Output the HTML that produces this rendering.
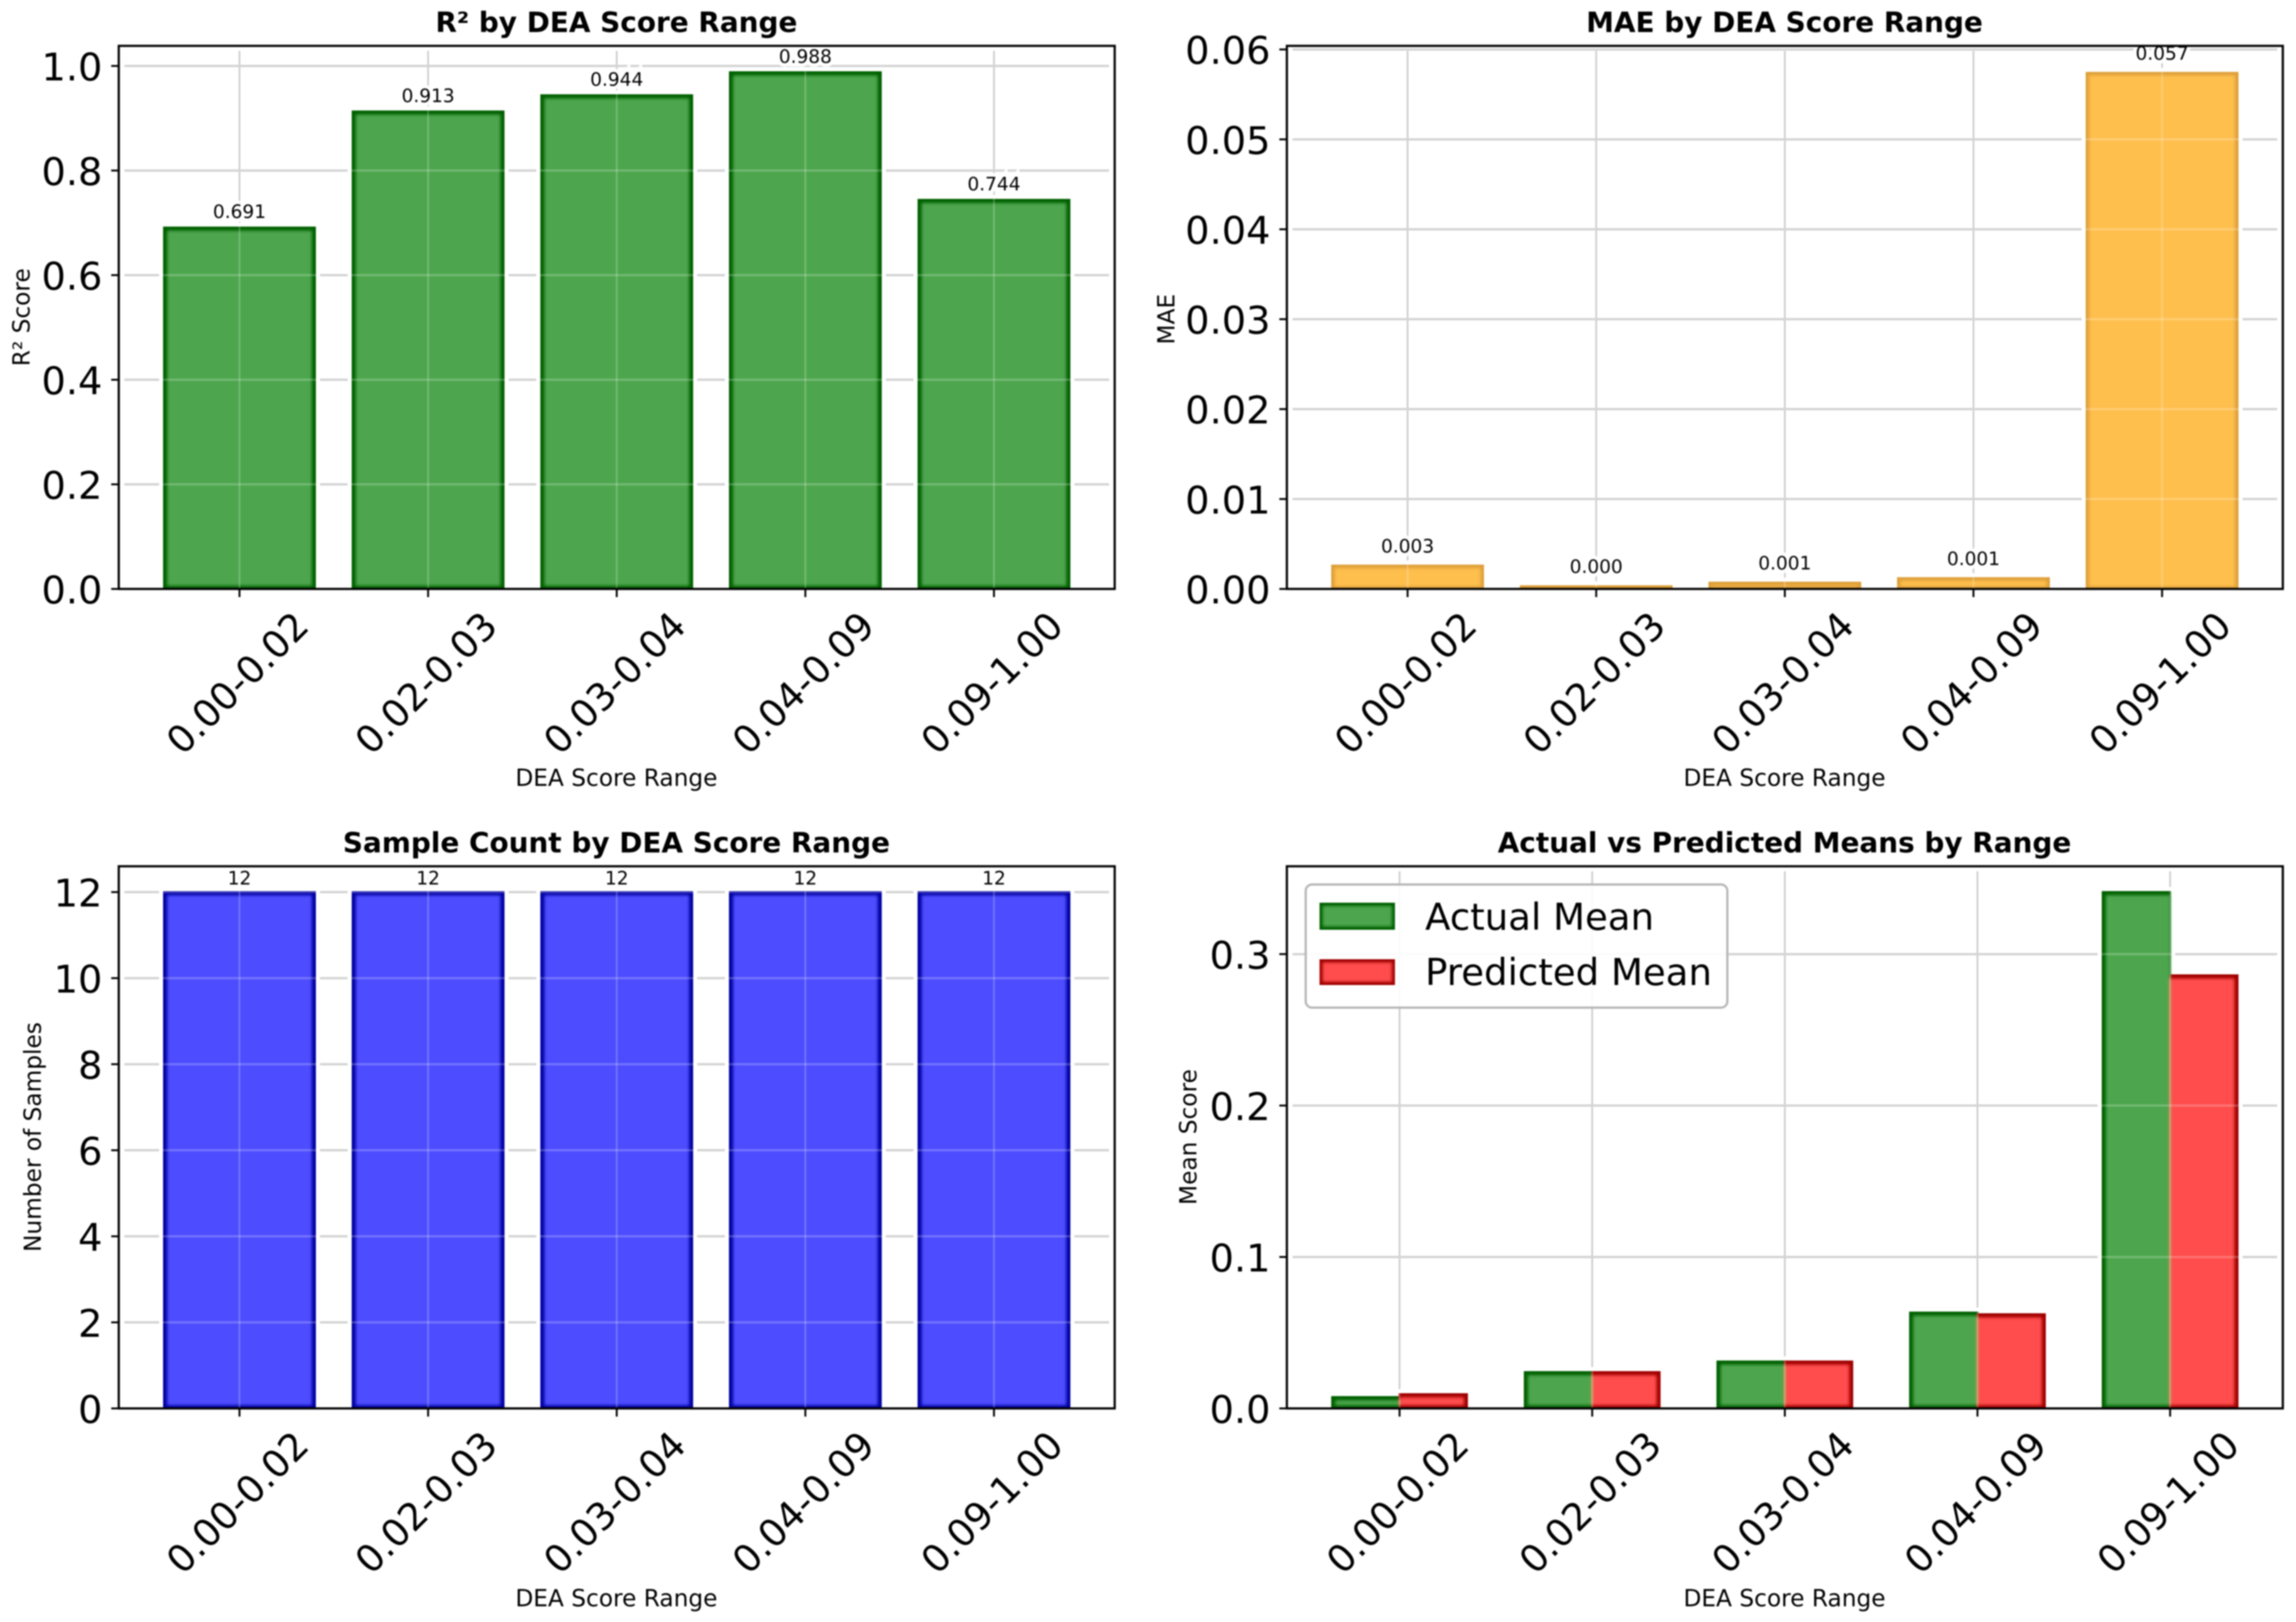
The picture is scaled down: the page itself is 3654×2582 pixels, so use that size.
<!DOCTYPE html>
<html lang="en">
<head>
<meta charset="utf-8">
<title>DEA Score Range Metrics</title>
<style>
  html, body { margin: 0; padding: 0; background: #fff; }
  body { width: 3654px; height: 2582px; overflow: hidden; }
  svg { display: block; filter: blur(1px); font-family: "DejaVu Sans", "Liberation Sans", sans-serif; }
  .title { font-size: 44.4px; font-weight: 700; text-anchor: middle; fill: #000; }
  .axis-label { font-size: 37px; text-anchor: middle; fill: #000; }
  .legend-text { font-size: 59px; fill: #000; }
</style>
</head>
<body>
<svg id="figure" xmlns="http://www.w3.org/2000/svg" width="3654" height="2582" viewBox="0 0 3654 2582">
  <defs>
    <filter id="soft-fill" x="-5%" y="-5%" width="110%" height="110%">
      <feGaussianBlur stdDeviation="2.5"/>
    </filter>
  </defs>
  <rect x="0" y="0" width="3654" height="2582" fill="#ffffff"/>
  <g id="marks"></g>

  <text class="title" x="981" y="51">R² by DEA Score Range</text>
  <text class="title" x="2840" y="51">MAE by DEA Score Range</text>
  <text class="title" x="981" y="1357">Sample Count by DEA Score Range</text>
  <text class="title" x="2840" y="1357">Actual vs Predicted Means by Range</text>

  <text class="axis-label" x="981" y="1251">DEA Score Range</text>
  <text class="axis-label" x="2840" y="1251">DEA Score Range</text>
  <text class="axis-label" x="981" y="2557">DEA Score Range</text>
  <text class="axis-label" x="2840" y="2557">DEA Score Range</text>

  <text class="axis-label" transform="translate(47 505) rotate(-90)">R² Score</text>
  <text class="axis-label" transform="translate(1869 508) rotate(-90)">MAE</text>
  <text class="axis-label" transform="translate(65 1810) rotate(-90)">Number of Samples</text>
  <text class="axis-label" transform="translate(1904 1810) rotate(-90)">Mean Score</text>

  <g>
    <rect x="2078" y="1408" width="671" height="196" rx="10" ry="10" fill="#ffffff" fill-opacity="0.9" stroke="#b5b5b5" stroke-width="3.5"/>
    <rect x="2100" y="1437" width="120" height="43" fill="#006000"/>
    <rect x="2105" y="1442" width="110" height="33" fill="#4da64d" filter="url(#soft-fill)"/>
    <text class="legend-text" x="2268" y="1480">Actual Mean</text>
    <rect x="2100" y="1527" width="120" height="41" fill="#a00000"/>
    <rect x="2105" y="1532" width="110" height="31" fill="#ff4d4d" filter="url(#soft-fill)"/>
    <text class="legend-text" x="2268" y="1568">Predicted Mean</text>
  </g>
</svg>

<script>
// ----- Chart data -----
const categories = ['0.00-0.02', '0.02-0.03', '0.03-0.04', '0.04-0.09', '0.09-1.00'];
const r2Values = [0.691, 0.913, 0.944, 0.988, 0.744];
const maeValues = [0.0026, 0.0003, 0.0007, 0.0012, 0.0574];
const sampleCounts = [12, 12, 12, 12, 12];
const actualMeans = [0.0075, 0.024, 0.031, 0.0633, 0.341];
const predictedMeans = [0.0094, 0.024, 0.031, 0.0622, 0.286];
const r2Ticks = ['0.0', '0.2', '0.4', '0.6', '0.8', '1.0'];
const maeTicks = ['0.00', '0.01', '0.02', '0.03', '0.04', '0.05', '0.06'];
const sampleTicks = ['0', '2', '4', '6', '8', '10', '12'];
const meanTicks = ['0.0', '0.1', '0.2', '0.3'];

const SVG_NS = 'http://www.w3.org/2000/svg';
const marks = document.getElementById('marks');

function make(tag, attrs, parent, text) {
  const node = document.createElementNS(SVG_NS, tag);
  for (const key in attrs) node.setAttribute(key, attrs[key]);
  if (text !== undefined) node.textContent = text;
  parent.appendChild(node);
  return node;
}

function xScale(panel) {
  return function (v) {
    return panel.left + (v - panel.xMin) / (panel.xMax - panel.xMin) * (panel.right - panel.left);
  };
}

function yScale(panel) {
  return function (v) {
    return panel.bottom - v / panel.yMax * (panel.bottom - panel.top);
  };
}

function drawPanel(panel) {
  const x = xScale(panel);
  const y = yScale(panel);
  const group = make('g', {}, marks);
  
  

  // Grid under the bars
  panel.ticks.forEach(function (label) {
    const py = y(parseFloat(label));
    if (parseFloat(label) === 0) return;
    const line = make('line', { x1: panel.left + 9, x2: panel.right - 9, y1: py, y2: py, stroke: '#c6c6c6', 'stroke-width': 3.5 }, group);
    
    
  });
  categories.forEach(function (cat, i) {
    const line = make('line', { x1: x(i), x2: x(i), y1: panel.top + 8, y2: panel.bottom, stroke: '#b8b8b8', 'stroke-width': 2.5 }, group);
    
    
  });

  // White halo around the bars
  panel.series.forEach(function (series) {
    series.values.forEach(function (value, i) {
      const x0 = x(i + series.offset - panel.barWidth / 2);
      const x1 = x(i + series.offset + panel.barWidth / 2);
      const y0 = y(value);
      const y1 = y(0);
      make('rect', { x: x0 - 8, y: y0 - 8, width: x1 - x0 + 16, height: y1 - y0 + 8, fill: '#ffffff' }, group);
    });
  });

  // Bars: dark edge silhouette
  panel.series.forEach(function (series) {
    series.values.forEach(function (value, i) {
      const x0 = x(i + series.offset - panel.barWidth / 2) - 1.5;
      const x1 = x(i + series.offset + panel.barWidth / 2) + 1.5;
      const y0 = y(value) - 1.5;
      const y1 = y(0);
      const bar = make('rect', { x: x0, y: y0, width: x1 - x0, height: Math.max(y1 - y0, 0), fill: series.edge }, group);
      
      
    });
  });

  // Bars: softened inner fill; adjacent paired bars have no dark edge where they meet
  const fills = make('g', { filter: 'url(#soft-fill)' }, group);
  
  
  panel.series.forEach(function (series) {
    series.values.forEach(function (value, i) {
      const x0 = x(i + series.offset - panel.barWidth / 2) + series.insetLeft;
      const x1 = x(i + series.offset + panel.barWidth / 2) - series.insetRight;
      const y0 = y(value) + panel.inset;
      const y1 = y(0) - panel.inset;
      const inner = make('rect', { x: x0, y: y0, width: Math.max(x1 - x0, 0), height: Math.max(y1 - y0, 0), fill: series.fill }, fills);
      
      
    });
  });

  // Light grid traces over the bars (invisible on the white background)
  panel.ticks.forEach(function (label) {
    const py = y(parseFloat(label));
    if (parseFloat(label) === 0) return;
    make('line', { x1: panel.left + 9, x2: panel.right - 9, y1: py, y2: py, stroke: '#ffffff', 'stroke-opacity': 0.22, 'stroke-width': 3.5 }, group);
  });
  categories.forEach(function (cat, i) {
    make('line', { x1: x(i), x2: x(i), y1: panel.top + 8, y2: panel.bottom, stroke: '#ffffff', 'stroke-opacity': 0.25, 'stroke-width': 2.5 }, group);
  });

  // Value labels above the bars
  if (panel.labels) {
    panel.labels.forEach(function (value, i) {
      const text = make('text', { x: x(i), y: y(panel.series[0].values[i]) - panel.labelGap, 'text-anchor': 'middle', 'font-size': 29.5, fill: '#000', stroke: '#fff', 'stroke-width': 12, 'stroke-opacity': 0.9, 'paint-order': 'stroke' }, group, panel.labelFormat(value));
      
      
    });
  }

  // Frame
  const frame = make('rect', { x: panel.left, y: panel.top, width: panel.right - panel.left, height: panel.bottom - panel.top, fill: 'none', stroke: '#000', 'stroke-width': 3.5 }, group);
  
  

  // Y ticks
  panel.ticks.forEach(function (label) {
    const py = y(parseFloat(label));
    const tick = make('line', { x1: panel.left - 12, x2: panel.left, y1: py, y2: py, stroke: '#000', 'stroke-width': 3 }, group);
    
    
    const text = make('text', { x: panel.left - 26, y: py + 23, 'text-anchor': 'end', 'font-size': 61, fill: '#000' }, group, label);
    
    
  });

  // X ticks
  categories.forEach(function (cat, i) {
    const tick = make('line', { x1: x(i), x2: x(i), y1: panel.bottom, y2: panel.bottom + 13, stroke: '#000', 'stroke-width': 3 }, group);
    
    
    const text = make('text', { transform: 'translate(' + (x(i) - 4) + ' ' + (panel.bottom + 149) + ') rotate(-45)', y: 22, 'text-anchor': 'middle', 'font-size': 60, fill: '#000' }, group, cat);
    
    
  });
}

function threeDecimals(v) { return v.toFixed(3); }
function integerLabel(v) { return String(v); }

drawPanel({
  name: 'r2', left: 189, right: 1774, top: 73, bottom: 937.5,
  xMin: -0.64, xMax: 4.64, yMax: 1.0384, barWidth: 0.8, inset: 5, ticks: r2Ticks,
  series: [{ key: 'r2', values: r2Values, offset: 0, insetLeft: 5, insetRight: 5, fill: '#4da64d', edge: '#006000' }],
  labels: r2Values, labelGap: 15, labelFormat: threeDecimals
});
drawPanel({
  name: 'mae', left: 2048, right: 3633, top: 73, bottom: 937.5,
  xMin: -0.64, xMax: 4.64, yMax: 0.0604, barWidth: 0.8, inset: 4, ticks: maeTicks,
  series: [{ key: 'mae', values: maeValues, offset: 0, insetLeft: 4, insetRight: 4, fill: '#ffbf4d', edge: '#dd9f3a' }],
  labels: maeValues, labelGap: 21, labelFormat: threeDecimals
});
drawPanel({
  name: 'sample-count', left: 189, right: 1774, top: 1379, bottom: 2242,
  xMin: -0.64, xMax: 4.64, yMax: 12.6, barWidth: 0.8, inset: 5, ticks: sampleTicks,
  series: [{ key: 'count', values: sampleCounts, offset: 0, insetLeft: 5, insetRight: 5, fill: '#4d4dff', edge: '#0000a0' }],
  labels: sampleCounts, labelGap: 12, labelFormat: integerLabel
});
drawPanel({
  name: 'means', left: 2048, right: 3633, top: 1379, bottom: 2242,
  xMin: -0.585, xMax: 4.585, yMax: 0.358, barWidth: 0.35, inset: 5, ticks: meanTicks,
  series: [
    { key: 'actual', values: actualMeans, offset: -0.175, insetLeft: 5, insetRight: 0, fill: '#4da64d', edge: '#006000' },
    { key: 'predicted', values: predictedMeans, offset: 0.175, insetLeft: 0, insetRight: 5, fill: '#ff4d4d', edge: '#a00000' }
  ]
});
</script>
</body>
</html>
